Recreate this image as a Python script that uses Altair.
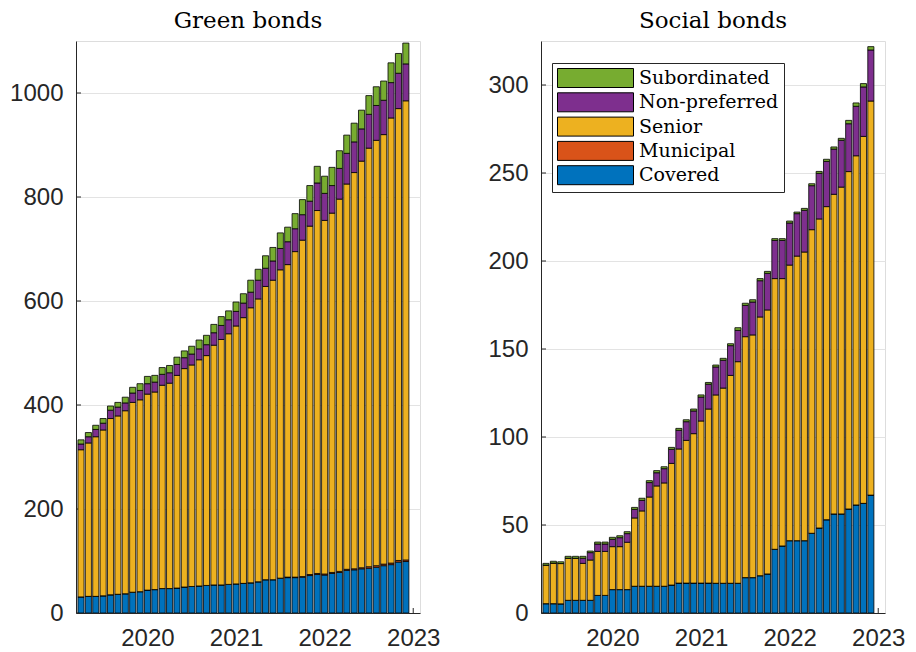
import altair as alt
import pandas as pd

# Monthly outstanding amounts, April 2019 - December 2022
start_year, start_month, n_months = 2019, 4, 45

categories = ["Subordinated", "Non-preferred", "Senior", "Municipal", "Covered"]
colors = ["#77AC30", "#7E2F8E", "#EDB120", "#D95319", "#0072BD"]
stack_rank = {"Covered": 0, "Municipal": 1, "Senior": 2, "Non-preferred": 3, "Subordinated": 4}

green_covered = [31, 32, 32, 33, 35, 36, 37, 40, 41, 44, 45, 47, 47, 48, 50, 51, 52, 53, 54, 54,
                 55, 56, 57, 58, 60, 64, 64, 67, 68, 68, 69, 72, 74, 73, 76, 78, 82, 83, 85, 86,
                 88, 91, 93, 98, 99]
green_municipal = [0] * 28 + [1, 1, 1, 2, 2, 2, 2, 2, 2, 2, 2, 3, 3, 3, 3, 3, 3]
green_senior = [283, 295, 307, 319, 339, 343, 352, 365, 369, 377, 380, 391, 395, 409, 420, 426,
                435, 442, 461, 472, 482, 496, 511, 529, 544, 564, 576, 593, 601, 626, 647, 670,
                698, 680, 691, 716, 741, 762, 782, 805, 818, 826, 856, 869, 883]
green_nonpref = [11, 12, 14, 13, 16, 17, 15, 18, 18, 20, 19, 21, 20, 21, 21, 21, 21, 21, 24, 27,
                 27, 28, 28, 30, 36, 35, 37, 41, 44, 44, 49, 48, 53, 52, 53, 59, 59, 59, 62, 65,
                 67, 66, 68, 68, 71]
green_subord = [8, 8, 8, 9, 8, 9, 11, 11, 13, 14, 13, 13, 14, 14, 13, 15, 17, 18, 16, 17,
                17, 18, 18, 23, 21, 24, 26, 30, 28, 29, 29, 30, 32, 33, 35, 34, 35, 36, 36, 36,
                36, 37, 38, 38, 40]

social_covered = [5.3, 5.3, 5.2, 7.2, 7.2, 7.2, 7.2, 10.0, 10.0, 13.3, 13.3, 13.3, 15.2, 15.2,
                  15.2, 15.2, 15.2, 15.9, 17.0, 17.0, 17.0, 17.0, 17.0, 16.9, 16.9, 16.9, 16.9,
                  20.1, 20.1, 21.2, 22.2, 36.2, 38.1, 41.1, 41.1, 41.1, 45.3, 48.3, 53.0, 56.3,
                  56.3, 59.1, 61.4, 62.3, 67.0]
social_municipal = [0] * 45
social_senior = [21.9, 23.1, 22.9, 23.9, 23.9, 21.0, 22.9, 25.0, 25.0, 24.4, 24.4, 26.9, 38.8,
                 42.8, 50.7, 57.0, 58.7, 69.1, 76.2, 81.1, 84.9, 92.1, 98.9, 107.0, 110.9,
                 118.1, 125.9, 136.9, 137.9, 147.0, 150.0, 153.8, 151.9, 156.6, 161.7, 164.0,
                 172.5, 175.6, 177.9, 181.6, 185.7, 191.7, 198.4, 208.5, 223.9]
social_nonpref = [0, 0, 0, 0, 0, 2.9, 4.2, 4.2, 4.2, 4.2, 5.1, 4.9, 4.9, 6.0, 8.2, 7.5, 8.1,
                  8.0, 10.6, 10.6, 12.9, 13.6, 14.1, 15.9, 15.8, 16.9, 17.8, 17.8, 18.7, 20.6,
                  20.8, 21.7, 21.7, 23.9, 24.1, 23.7, 25.0, 25.9, 25.7, 25.7, 26.6, 27.2, 28.1,
                  28.1, 29.0]
social_subord = [1.0, 1.0, 1.0, 1.1, 1.1, 1.1, 0.9, 1.1, 1.1, 1.1, 1.1, 1.1, 1.1, 1.2, 1.1,
                 1.2, 1.1, 1.1, 1.1, 1.1, 1.1, 1.2, 1.0, 1.1, 1.1, 1.1, 1.5, 1.2, 1.3, 1.2, 1.1,
                 1.0, 1.0, 1.1, 0.9, 1.1, 1.1, 1.1, 1.2, 1.2, 1.1, 1.9, 1.9, 1.9, 1.9]

year_ticks = [2020, 2021, 2022, 2023]
green_yticks = [0, 200, 400, 600, 800, 1000]
social_yticks = [0, 50, 100, 150, 200, 250, 300]

# bar centre = first day of the month, as a decimal year
month_pos = [start_year + (start_month - 1 + i) / 12 for i in range(n_months)]

W, H = 344, 572
X_DOMAIN = [2019.25, 2023.02]
AX = "#262626"
SERIF = "DejaVu Serif"
SANS = "Liberation Sans"


def long_table(series):
    rows = []
    for cat, vals in series.items():
        for t, v in zip(month_pos, vals):
            rows.append({"t": t, "cat": cat, "value": v, "rank": stack_rank[cat]})
    return pd.DataFrame(rows)


def panel(title, series, ymax, yticks, legend):
    df = long_table(series)
    xs = alt.Scale(domain=X_DOMAIN, nice=False, zero=False)
    ys = alt.Scale(domain=[0, ymax], nice=False)

    bars = alt.Chart(df).mark_bar(size=6.1, stroke="black", strokeWidth=0.8, clip=True).encode(
        x=alt.X("t:Q", scale=xs,
                axis=alt.Axis(values=year_ticks, format="d", title=None, grid=False, ticks=False,
                              labelFont=SANS, labelFontSize=24, labelColor=AX, labelPadding=13,
                              labelFlush=False, domainColor=AX, domainWidth=1)),
        y=alt.Y("value:Q", stack="zero", scale=ys,
                axis=alt.Axis(values=yticks, format="d", title=None, grid=True,
                              gridColor="#e3e3e3", gridWidth=1, ticks=False, labelFont=SANS,
                              labelFontSize=24, labelColor=AX, labelPadding=13,
                              domainColor=AX, domainWidth=1)),
        color=alt.Color("cat:N", scale=alt.Scale(domain=categories, range=colors), legend=legend),
        order=alt.Order("rank:Q", sort="ascending"),
    )

    ytick_marks = alt.Chart(pd.DataFrame({"v": yticks})).mark_rule(
        color=AX, strokeWidth=1).encode(
        y=alt.Y("v:Q", scale=ys), x=alt.value(0), x2=alt.value(5))
    xtick_marks = alt.Chart(pd.DataFrame({"t": year_ticks})).mark_rule(
        color=AX, strokeWidth=1).encode(
        x=alt.X("t:Q", scale=xs), y=alt.value(H), y2=alt.value(H - 5))

    return alt.layer(ytick_marks, xtick_marks, bars).properties(
        width=W, height=H,
        title=alt.TitleParams(title, font=SERIF, fontSize=23, fontWeight="normal",
                              color="black", offset=8, anchor="middle"))


green = panel("Green bonds", {
    "Covered": green_covered, "Municipal": green_municipal, "Senior": green_senior,
    "Non-preferred": green_nonpref, "Subordinated": green_subord}, 1100, green_yticks, None)

# wide swatch: 19 px tall, 76 px long, left edge at the symbol column start
social_legend = alt.Legend(
    orient="none", legendX=11, legendY=22, title=None,
    symbolType="M-1,-1H7V1H-1Z", symbolSize=361, symbolStrokeColor="black",
    symbolStrokeWidth=1, symbolOpacity=1,
    labelFont=SERIF, labelFontSize=19, labelColor="black", labelOffset=62,
    strokeColor=AX, fillColor="white", padding=5, rowPadding=0.3)

social = panel("Social bonds", {
    "Covered": social_covered, "Municipal": social_municipal, "Senior": social_senior,
    "Non-preferred": social_nonpref, "Subordinated": social_subord}, 325, social_yticks,
    social_legend)

chart = alt.hconcat(green, social, spacing=121, bounds="flush").resolve_legend(
    color="independent").properties(
    padding={"left": 9, "top": 9, "right": 10, "bottom": 6}
).configure_view(stroke=None).configure(background="white")

chart.save("out.html", embed_options={"renderer": "svg", "actions": False})
